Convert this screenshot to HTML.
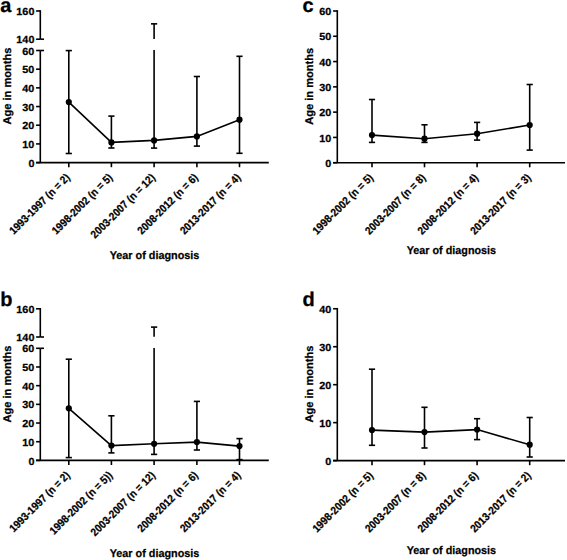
<!DOCTYPE html>
<html><head><meta charset="utf-8"><style>
html,body{margin:0;padding:0;background:#fff;}
svg{display:block;}
text{font-family:"Liberation Sans",sans-serif;font-weight:bold;fill:#000;text-rendering:geometricPrecision;stroke:#000;stroke-width:0.25px;}
</style></head><body>
<svg width="567" height="560" viewBox="0 0 567 560">
<rect width="567" height="560" fill="#fff"/>
<g stroke="#000" fill="#000" stroke-linecap="butt">
<line x1="40.30" y1="10.20" x2="40.30" y2="39.20" stroke-width="1.6"/>
<line x1="40.30" y1="50.50" x2="40.30" y2="162.60" stroke-width="1.6"/>
<line x1="40.30" y1="39.20" x2="44.00" y2="39.20" stroke-width="1.6"/>
<line x1="40.30" y1="50.50" x2="44.00" y2="50.50" stroke-width="1.6"/>
<line x1="36.10" y1="11.00" x2="40.30" y2="11.00" stroke-width="1.6"/>
<line x1="36.10" y1="39.20" x2="40.30" y2="39.20" stroke-width="1.6"/>
<line x1="36.10" y1="50.50" x2="40.30" y2="50.50" stroke-width="1.6"/>
<line x1="36.10" y1="69.18" x2="40.30" y2="69.18" stroke-width="1.6"/>
<line x1="36.10" y1="87.87" x2="40.30" y2="87.87" stroke-width="1.6"/>
<line x1="36.10" y1="106.55" x2="40.30" y2="106.55" stroke-width="1.6"/>
<line x1="36.10" y1="125.23" x2="40.30" y2="125.23" stroke-width="1.6"/>
<line x1="36.10" y1="143.92" x2="40.30" y2="143.92" stroke-width="1.6"/>
<line x1="36.10" y1="162.60" x2="40.30" y2="162.60" stroke-width="1.6"/>
<line x1="36.10" y1="162.60" x2="268.80" y2="162.60" stroke-width="1.6"/>
<line x1="68.80" y1="162.60" x2="68.80" y2="167.20" stroke-width="1.6"/>
<line x1="111.40" y1="162.60" x2="111.40" y2="167.20" stroke-width="1.6"/>
<line x1="154.10" y1="162.60" x2="154.10" y2="167.20" stroke-width="1.6"/>
<line x1="196.90" y1="162.60" x2="196.90" y2="167.20" stroke-width="1.6"/>
<line x1="239.50" y1="162.60" x2="239.50" y2="167.20" stroke-width="1.6"/>
<line x1="68.80" y1="50.60" x2="68.80" y2="153.50" stroke-width="1.6"/>
<line x1="65.70" y1="50.60" x2="71.90" y2="50.60" stroke-width="1.6"/>
<line x1="65.70" y1="153.50" x2="71.90" y2="153.50" stroke-width="1.6"/>
<line x1="111.40" y1="116.10" x2="111.40" y2="148.00" stroke-width="1.6"/>
<line x1="108.30" y1="116.10" x2="114.50" y2="116.10" stroke-width="1.6"/>
<line x1="108.30" y1="148.00" x2="114.50" y2="148.00" stroke-width="1.6"/>
<line x1="154.10" y1="23.85" x2="154.10" y2="38.90" stroke-width="1.6"/>
<line x1="154.10" y1="50.10" x2="154.10" y2="148.10" stroke-width="1.6"/>
<line x1="151.00" y1="23.85" x2="157.20" y2="23.85" stroke-width="1.6"/>
<line x1="151.00" y1="148.10" x2="157.20" y2="148.10" stroke-width="1.6"/>
<line x1="196.90" y1="76.50" x2="196.90" y2="146.10" stroke-width="1.6"/>
<line x1="193.80" y1="76.50" x2="200.00" y2="76.50" stroke-width="1.6"/>
<line x1="193.80" y1="146.10" x2="200.00" y2="146.10" stroke-width="1.6"/>
<line x1="239.50" y1="56.30" x2="239.50" y2="153.30" stroke-width="1.6"/>
<line x1="236.40" y1="56.30" x2="242.60" y2="56.30" stroke-width="1.6"/>
<line x1="236.40" y1="153.30" x2="242.60" y2="153.30" stroke-width="1.6"/>
<polyline points="68.80,102.10 111.40,142.40 154.10,140.40 196.90,136.40 239.50,119.70" fill="none" stroke-width="1.6"/>
<circle cx="68.80" cy="102.10" r="3.1" stroke="none"/>
<circle cx="111.40" cy="142.40" r="3.1" stroke="none"/>
<circle cx="154.10" cy="140.40" r="3.1" stroke="none"/>
<circle cx="196.90" cy="136.40" r="3.1" stroke="none"/>
<circle cx="239.50" cy="119.70" r="3.1" stroke="none"/>
<line x1="40.30" y1="308.00" x2="40.30" y2="337.00" stroke-width="1.6"/>
<line x1="40.30" y1="348.30" x2="40.30" y2="460.40" stroke-width="1.6"/>
<line x1="40.30" y1="337.00" x2="44.00" y2="337.00" stroke-width="1.6"/>
<line x1="40.30" y1="348.30" x2="44.00" y2="348.30" stroke-width="1.6"/>
<line x1="36.10" y1="308.80" x2="40.30" y2="308.80" stroke-width="1.6"/>
<line x1="36.10" y1="337.00" x2="40.30" y2="337.00" stroke-width="1.6"/>
<line x1="36.10" y1="348.30" x2="40.30" y2="348.30" stroke-width="1.6"/>
<line x1="36.10" y1="366.98" x2="40.30" y2="366.98" stroke-width="1.6"/>
<line x1="36.10" y1="385.67" x2="40.30" y2="385.67" stroke-width="1.6"/>
<line x1="36.10" y1="404.35" x2="40.30" y2="404.35" stroke-width="1.6"/>
<line x1="36.10" y1="423.03" x2="40.30" y2="423.03" stroke-width="1.6"/>
<line x1="36.10" y1="441.72" x2="40.30" y2="441.72" stroke-width="1.6"/>
<line x1="36.10" y1="460.40" x2="40.30" y2="460.40" stroke-width="1.6"/>
<line x1="36.10" y1="460.40" x2="268.80" y2="460.40" stroke-width="1.6"/>
<line x1="68.80" y1="460.40" x2="68.80" y2="465.00" stroke-width="1.6"/>
<line x1="111.40" y1="460.40" x2="111.40" y2="465.00" stroke-width="1.6"/>
<line x1="154.10" y1="460.40" x2="154.10" y2="465.00" stroke-width="1.6"/>
<line x1="196.90" y1="460.40" x2="196.90" y2="465.00" stroke-width="1.6"/>
<line x1="239.50" y1="460.40" x2="239.50" y2="465.00" stroke-width="1.6"/>
<line x1="68.80" y1="359.20" x2="68.80" y2="457.60" stroke-width="1.6"/>
<line x1="65.70" y1="359.20" x2="71.90" y2="359.20" stroke-width="1.6"/>
<line x1="65.70" y1="457.60" x2="71.90" y2="457.60" stroke-width="1.6"/>
<line x1="111.40" y1="415.80" x2="111.40" y2="452.90" stroke-width="1.6"/>
<line x1="108.30" y1="415.80" x2="114.50" y2="415.80" stroke-width="1.6"/>
<line x1="108.30" y1="452.90" x2="114.50" y2="452.90" stroke-width="1.6"/>
<line x1="154.10" y1="327.10" x2="154.10" y2="336.70" stroke-width="1.6"/>
<line x1="154.10" y1="348.00" x2="154.10" y2="454.40" stroke-width="1.6"/>
<line x1="151.00" y1="327.10" x2="157.20" y2="327.10" stroke-width="1.6"/>
<line x1="151.00" y1="454.40" x2="157.20" y2="454.40" stroke-width="1.6"/>
<line x1="196.90" y1="401.40" x2="196.90" y2="450.00" stroke-width="1.6"/>
<line x1="193.80" y1="401.40" x2="200.00" y2="401.40" stroke-width="1.6"/>
<line x1="193.80" y1="450.00" x2="200.00" y2="450.00" stroke-width="1.6"/>
<line x1="239.50" y1="438.60" x2="239.50" y2="459.60" stroke-width="1.6"/>
<line x1="236.40" y1="438.60" x2="242.60" y2="438.60" stroke-width="1.6"/>
<line x1="236.40" y1="459.60" x2="242.60" y2="459.60" stroke-width="1.6"/>
<polyline points="68.80,408.30 111.40,445.60 154.10,443.80 196.90,442.10 239.50,446.10" fill="none" stroke-width="1.6"/>
<circle cx="68.80" cy="408.30" r="3.1" stroke="none"/>
<circle cx="111.40" cy="445.60" r="3.1" stroke="none"/>
<circle cx="154.10" cy="443.80" r="3.1" stroke="none"/>
<circle cx="196.90" cy="442.10" r="3.1" stroke="none"/>
<circle cx="239.50" cy="446.10" r="3.1" stroke="none"/>
<line x1="337.30" y1="10.20" x2="337.30" y2="162.70" stroke-width="1.6"/>
<line x1="333.10" y1="11.00" x2="337.30" y2="11.00" stroke-width="1.6"/>
<line x1="333.10" y1="36.28" x2="337.30" y2="36.28" stroke-width="1.6"/>
<line x1="333.10" y1="61.57" x2="337.30" y2="61.57" stroke-width="1.6"/>
<line x1="333.10" y1="86.85" x2="337.30" y2="86.85" stroke-width="1.6"/>
<line x1="333.10" y1="112.13" x2="337.30" y2="112.13" stroke-width="1.6"/>
<line x1="333.10" y1="137.42" x2="337.30" y2="137.42" stroke-width="1.6"/>
<line x1="333.10" y1="162.70" x2="337.30" y2="162.70" stroke-width="1.6"/>
<line x1="333.10" y1="162.70" x2="565.00" y2="162.70" stroke-width="1.6"/>
<line x1="372.00" y1="162.70" x2="372.00" y2="167.30" stroke-width="1.6"/>
<line x1="424.50" y1="162.70" x2="424.50" y2="167.30" stroke-width="1.6"/>
<line x1="477.10" y1="162.70" x2="477.10" y2="167.30" stroke-width="1.6"/>
<line x1="529.70" y1="162.70" x2="529.70" y2="167.30" stroke-width="1.6"/>
<line x1="372.00" y1="99.50" x2="372.00" y2="142.40" stroke-width="1.6"/>
<line x1="368.90" y1="99.50" x2="375.10" y2="99.50" stroke-width="1.6"/>
<line x1="368.90" y1="142.40" x2="375.10" y2="142.40" stroke-width="1.6"/>
<line x1="424.50" y1="124.80" x2="424.50" y2="142.40" stroke-width="1.6"/>
<line x1="421.40" y1="124.80" x2="427.60" y2="124.80" stroke-width="1.6"/>
<line x1="421.40" y1="142.40" x2="427.60" y2="142.40" stroke-width="1.6"/>
<line x1="477.10" y1="122.40" x2="477.10" y2="140.10" stroke-width="1.6"/>
<line x1="474.00" y1="122.40" x2="480.20" y2="122.40" stroke-width="1.6"/>
<line x1="474.00" y1="140.10" x2="480.20" y2="140.10" stroke-width="1.6"/>
<line x1="529.70" y1="84.50" x2="529.70" y2="150.10" stroke-width="1.6"/>
<line x1="526.60" y1="84.50" x2="532.80" y2="84.50" stroke-width="1.6"/>
<line x1="526.60" y1="150.10" x2="532.80" y2="150.10" stroke-width="1.6"/>
<polyline points="372.00,135.10 424.50,138.70 477.10,133.70 529.70,125.00" fill="none" stroke-width="1.6"/>
<circle cx="372.00" cy="135.10" r="3.1" stroke="none"/>
<circle cx="424.50" cy="138.70" r="3.1" stroke="none"/>
<circle cx="477.10" cy="133.70" r="3.1" stroke="none"/>
<circle cx="529.70" cy="125.00" r="3.1" stroke="none"/>
<line x1="337.30" y1="307.95" x2="337.30" y2="460.60" stroke-width="1.6"/>
<line x1="333.10" y1="308.75" x2="337.30" y2="308.75" stroke-width="1.6"/>
<line x1="333.10" y1="346.71" x2="337.30" y2="346.71" stroke-width="1.6"/>
<line x1="333.10" y1="384.68" x2="337.30" y2="384.68" stroke-width="1.6"/>
<line x1="333.10" y1="422.64" x2="337.30" y2="422.64" stroke-width="1.6"/>
<line x1="333.10" y1="460.60" x2="337.30" y2="460.60" stroke-width="1.6"/>
<line x1="333.10" y1="460.60" x2="565.00" y2="460.60" stroke-width="1.6"/>
<line x1="372.00" y1="460.60" x2="372.00" y2="465.20" stroke-width="1.6"/>
<line x1="424.50" y1="460.60" x2="424.50" y2="465.20" stroke-width="1.6"/>
<line x1="477.10" y1="460.60" x2="477.10" y2="465.20" stroke-width="1.6"/>
<line x1="529.70" y1="460.60" x2="529.70" y2="465.20" stroke-width="1.6"/>
<line x1="372.00" y1="369.20" x2="372.00" y2="445.30" stroke-width="1.6"/>
<line x1="368.90" y1="369.20" x2="375.10" y2="369.20" stroke-width="1.6"/>
<line x1="368.90" y1="445.30" x2="375.10" y2="445.30" stroke-width="1.6"/>
<line x1="424.50" y1="407.30" x2="424.50" y2="448.00" stroke-width="1.6"/>
<line x1="421.40" y1="407.30" x2="427.60" y2="407.30" stroke-width="1.6"/>
<line x1="421.40" y1="448.00" x2="427.60" y2="448.00" stroke-width="1.6"/>
<line x1="477.10" y1="418.70" x2="477.10" y2="439.60" stroke-width="1.6"/>
<line x1="474.00" y1="418.70" x2="480.20" y2="418.70" stroke-width="1.6"/>
<line x1="474.00" y1="439.60" x2="480.20" y2="439.60" stroke-width="1.6"/>
<line x1="529.70" y1="417.50" x2="529.70" y2="457.00" stroke-width="1.6"/>
<line x1="526.60" y1="417.50" x2="532.80" y2="417.50" stroke-width="1.6"/>
<line x1="526.60" y1="457.00" x2="532.80" y2="457.00" stroke-width="1.6"/>
<polyline points="372.00,430.10 424.50,432.10 477.10,429.60 529.70,444.70" fill="none" stroke-width="1.6"/>
<circle cx="372.00" cy="430.10" r="3.1" stroke="none"/>
<circle cx="424.50" cy="432.10" r="3.1" stroke="none"/>
<circle cx="477.10" cy="429.60" r="3.1" stroke="none"/>
<circle cx="529.70" cy="444.70" r="3.1" stroke="none"/>
</g>
<g>
<text x="0" y="0" font-size="10.3" text-anchor="end" transform="translate(34.40,15.10) scale(1.05,1)">160</text>
<text x="0" y="0" font-size="10.3" text-anchor="end" transform="translate(34.40,43.30) scale(1.05,1)">140</text>
<text x="0" y="0" font-size="10.3" text-anchor="end" transform="translate(34.40,54.60) scale(1.05,1)">60</text>
<text x="0" y="0" font-size="10.3" text-anchor="end" transform="translate(34.40,73.28) scale(1.05,1)">50</text>
<text x="0" y="0" font-size="10.3" text-anchor="end" transform="translate(34.40,91.97) scale(1.05,1)">40</text>
<text x="0" y="0" font-size="10.3" text-anchor="end" transform="translate(34.40,110.65) scale(1.05,1)">30</text>
<text x="0" y="0" font-size="10.3" text-anchor="end" transform="translate(34.40,129.33) scale(1.05,1)">20</text>
<text x="0" y="0" font-size="10.3" text-anchor="end" transform="translate(34.40,148.02) scale(1.05,1)">10</text>
<text x="0" y="0" font-size="10.3" text-anchor="end" transform="translate(34.40,166.70) scale(1.05,1)">0</text>
<text x="0" y="0" font-size="11.0" text-anchor="end" transform="translate(70.60,178.20) rotate(-45) scale(0.91,1)">1993-1997 (n = 2)</text>
<text x="0" y="0" font-size="11.0" text-anchor="end" transform="translate(113.20,178.20) rotate(-45) scale(0.91,1)">1998-2002 (n = 5)</text>
<text x="0" y="0" font-size="11.0" text-anchor="end" transform="translate(155.90,178.20) rotate(-45) scale(0.91,1)">2003-2007 (n = 12)</text>
<text x="0" y="0" font-size="11.0" text-anchor="end" transform="translate(198.70,178.20) rotate(-45) scale(0.91,1)">2008-2012 (n = 6)</text>
<text x="0" y="0" font-size="11.0" text-anchor="end" transform="translate(241.30,178.20) rotate(-45) scale(0.91,1)">2013-2017 (n = 4)</text>
<text x="154.50" y="258.80" font-size="11.2" text-anchor="middle" textLength="89.6" lengthAdjust="spacingAndGlyphs">Year of diagnosis</text>
<text x="0.20" y="12.00" font-size="20" text-anchor="start">a</text>
<text x="0" y="0" font-size="11.2" text-anchor="middle" transform="translate(11.0,86.00) rotate(-90)" textLength="77" lengthAdjust="spacingAndGlyphs">Age in months</text>
<text x="0" y="0" font-size="10.3" text-anchor="end" transform="translate(34.40,312.90) scale(1.05,1)">160</text>
<text x="0" y="0" font-size="10.3" text-anchor="end" transform="translate(34.40,341.10) scale(1.05,1)">140</text>
<text x="0" y="0" font-size="10.3" text-anchor="end" transform="translate(34.40,352.40) scale(1.05,1)">60</text>
<text x="0" y="0" font-size="10.3" text-anchor="end" transform="translate(34.40,371.08) scale(1.05,1)">50</text>
<text x="0" y="0" font-size="10.3" text-anchor="end" transform="translate(34.40,389.77) scale(1.05,1)">40</text>
<text x="0" y="0" font-size="10.3" text-anchor="end" transform="translate(34.40,408.45) scale(1.05,1)">30</text>
<text x="0" y="0" font-size="10.3" text-anchor="end" transform="translate(34.40,427.13) scale(1.05,1)">20</text>
<text x="0" y="0" font-size="10.3" text-anchor="end" transform="translate(34.40,445.82) scale(1.05,1)">10</text>
<text x="0" y="0" font-size="10.3" text-anchor="end" transform="translate(34.40,464.50) scale(1.05,1)">0</text>
<text x="0" y="0" font-size="11.0" text-anchor="end" transform="translate(70.60,476.00) rotate(-45) scale(0.91,1)">1993-1997 (n = 2)</text>
<text x="0" y="0" font-size="11.0" text-anchor="end" transform="translate(113.20,476.00) rotate(-45) scale(0.91,1)">1998-2002 (n = 5))</text>
<text x="0" y="0" font-size="11.0" text-anchor="end" transform="translate(155.90,476.00) rotate(-45) scale(0.91,1)">2003-2007 (n = 12)</text>
<text x="0" y="0" font-size="11.0" text-anchor="end" transform="translate(198.70,476.00) rotate(-45) scale(0.91,1)">2008-2012 (n = 6)</text>
<text x="0" y="0" font-size="11.0" text-anchor="end" transform="translate(241.30,476.00) rotate(-45) scale(0.91,1)">2013-2017 (n = 4)</text>
<text x="154.50" y="556.60" font-size="11.2" text-anchor="middle" textLength="89.6" lengthAdjust="spacingAndGlyphs">Year of diagnosis</text>
<text x="0.20" y="306.00" font-size="20" text-anchor="start">b</text>
<text x="0" y="0" font-size="11.2" text-anchor="middle" transform="translate(11.0,384.00) rotate(-90)" textLength="77" lengthAdjust="spacingAndGlyphs">Age in months</text>
<text x="0" y="0" font-size="10.3" text-anchor="end" transform="translate(331.20,15.10) scale(1.05,1)">60</text>
<text x="0" y="0" font-size="10.3" text-anchor="end" transform="translate(331.20,40.38) scale(1.05,1)">50</text>
<text x="0" y="0" font-size="10.3" text-anchor="end" transform="translate(331.20,65.67) scale(1.05,1)">40</text>
<text x="0" y="0" font-size="10.3" text-anchor="end" transform="translate(331.20,90.95) scale(1.05,1)">30</text>
<text x="0" y="0" font-size="10.3" text-anchor="end" transform="translate(331.20,116.23) scale(1.05,1)">20</text>
<text x="0" y="0" font-size="10.3" text-anchor="end" transform="translate(331.20,141.52) scale(1.05,1)">10</text>
<text x="0" y="0" font-size="10.3" text-anchor="end" transform="translate(331.20,166.80) scale(1.05,1)">0</text>
<text x="0" y="0" font-size="11.0" text-anchor="end" transform="translate(373.80,178.30) rotate(-45) scale(0.91,1)">1998-2002 (n = 5)</text>
<text x="0" y="0" font-size="11.0" text-anchor="end" transform="translate(426.30,178.30) rotate(-45) scale(0.91,1)">2003-2007 (n = 8)</text>
<text x="0" y="0" font-size="11.0" text-anchor="end" transform="translate(478.90,178.30) rotate(-45) scale(0.91,1)">2008-2012 (n = 4)</text>
<text x="0" y="0" font-size="11.0" text-anchor="end" transform="translate(531.50,178.30) rotate(-45) scale(0.91,1)">2013-2017 (n = 3)</text>
<text x="451.40" y="254.10" font-size="11.2" text-anchor="middle" textLength="89.3" lengthAdjust="spacingAndGlyphs">Year of diagnosis</text>
<text x="302.50" y="11.50" font-size="20" text-anchor="start">c</text>
<text x="0" y="0" font-size="11.2" text-anchor="middle" transform="translate(312.5,86.30) rotate(-90)" textLength="77" lengthAdjust="spacingAndGlyphs">Age in months</text>
<text x="0" y="0" font-size="10.3" text-anchor="end" transform="translate(331.20,312.85) scale(1.05,1)">40</text>
<text x="0" y="0" font-size="10.3" text-anchor="end" transform="translate(331.20,350.81) scale(1.05,1)">30</text>
<text x="0" y="0" font-size="10.3" text-anchor="end" transform="translate(331.20,388.78) scale(1.05,1)">20</text>
<text x="0" y="0" font-size="10.3" text-anchor="end" transform="translate(331.20,426.74) scale(1.05,1)">10</text>
<text x="0" y="0" font-size="10.3" text-anchor="end" transform="translate(331.20,464.70) scale(1.05,1)">0</text>
<text x="0" y="0" font-size="11.0" text-anchor="end" transform="translate(373.80,476.20) rotate(-45) scale(0.91,1)">1998-2002 (n = 5)</text>
<text x="0" y="0" font-size="11.0" text-anchor="end" transform="translate(426.30,476.20) rotate(-45) scale(0.91,1)">2003-2007 (n = 8)</text>
<text x="0" y="0" font-size="11.0" text-anchor="end" transform="translate(478.90,476.20) rotate(-45) scale(0.91,1)">2008-2012 (n = 6)</text>
<text x="0" y="0" font-size="11.0" text-anchor="end" transform="translate(531.50,476.20) rotate(-45) scale(0.91,1)">2013-2017 (n = 2)</text>
<text x="451.40" y="554.30" font-size="11.2" text-anchor="middle" textLength="89.3" lengthAdjust="spacingAndGlyphs">Year of diagnosis</text>
<text x="302.50" y="306.00" font-size="20" text-anchor="start">d</text>
<text x="0" y="0" font-size="11.2" text-anchor="middle" transform="translate(312.5,384.00) rotate(-90)" textLength="77" lengthAdjust="spacingAndGlyphs">Age in months</text>
</g>
</svg>
</body></html>
